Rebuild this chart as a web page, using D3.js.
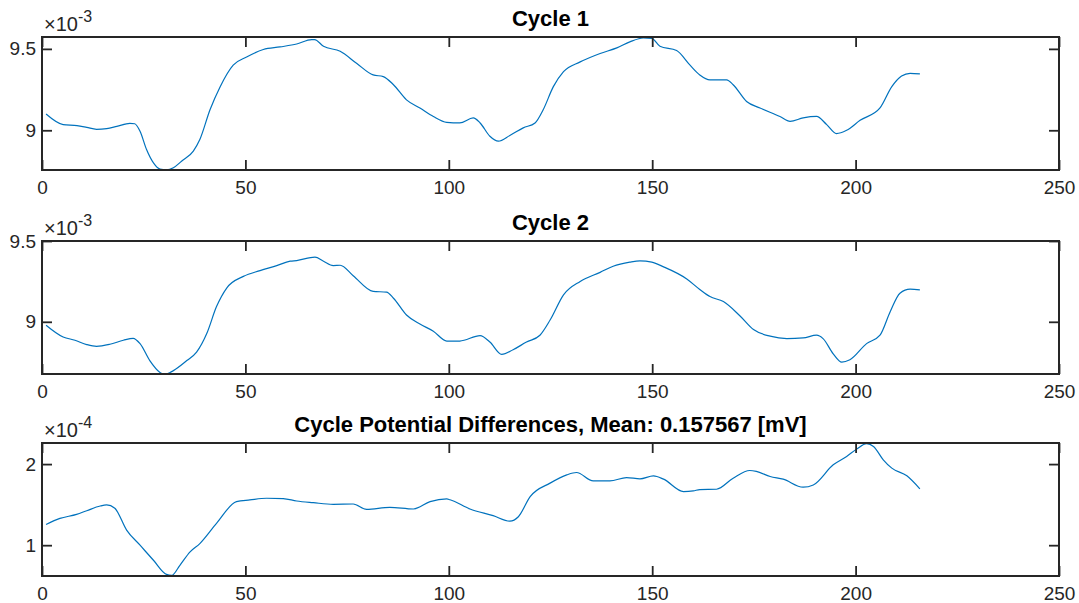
<!DOCTYPE html>
<html><head><meta charset="utf-8">
<script src="https://cdn.jsdelivr.net/npm/d3@7"></script>
<style>
html,body{margin:0;padding:0;background:#fff;}
svg{display:block;font-family:"Liberation Sans",Arial,Helvetica,sans-serif;}
</style></head>
<body><svg id="chart" width="1079" height="603"></svg>
<script>
// ---- Data (values shown in units of the axis multiplier) ----
const titles = ["Cycle 1", "Cycle 2", "Cycle Potential Differences, Mean: 0.157567 [mV]"];
const exponents = ["-3", "-3", "-4"];
const xTicks = [0, 50, 100, 150, 200, 250];
const xDomain = [0, 250];

const x1 = [1,5.2,8.6,11,13.4,15.9,18.4,21.6,22.8,24.1,25.7,27.4,29,30.6,32.3,34.3,37.2,38.8,41.3,43.8,47,50.3,54.4,58.5,62.6,66.3,67,69.2,73.3,77.4,81.4,83.9,86.4,89.6,92.9,96.2,99.5,102.7,106,107.7,110.1,112.2,115,118.3,121.2,123.2,125.7,128.2,132.3,137.2,141.3,144.5,147.8,149.9,151.9,156,159.3,161.7,164.2,168.3,169.9,173.2,176.5,181.4,183.9,187.1,190.4,192.9,195.3,197.8,201.1,206,208.9,211.3,213.4,215.8];
const c1 = [9.100,9.035,9.029,9.018,9.006,9.010,9.024,9.043,9.040,8.994,8.882,8.800,8.762,8.757,8.770,8.810,8.872,8.943,9.126,9.268,9.400,9.450,9.496,9.512,9.530,9.557,9.557,9.516,9.485,9.410,9.340,9.330,9.280,9.187,9.137,9.085,9.049,9.045,9.076,9.045,8.963,8.933,8.968,9.015,9.045,9.126,9.268,9.360,9.420,9.472,9.506,9.543,9.567,9.565,9.516,9.490,9.400,9.340,9.310,9.310,9.280,9.177,9.137,9.085,9.055,9.076,9.085,9.035,8.980,9.000,9.061,9.137,9.268,9.333,9.350,9.346];

const x2 = [1,5.2,8.1,11,13.4,16.7,20,22.4,24.1,26.5,29,30.2,32.3,35.6,38,40.5,42.9,45.4,49.5,53.6,57.7,61,62.6,67.1,69.2,71.6,73.3,76.5,81.4,84.7,86.4,89.6,92.9,96.2,99.5,102.7,107.7,110.1,113,115.8,119.1,122.4,124.9,128.2,132.3,137.2,140.4,144.5,147,149.9,152.8,158.5,161.7,164.2,167.5,171.6,174.9,179,183.1,187.1,190.4,192,194.5,196.6,198.6,202.7,206,208.5,210.9,213.4,215.8];
const c2 = [8.979,8.906,8.886,8.859,8.848,8.861,8.886,8.898,8.865,8.760,8.687,8.675,8.698,8.760,8.812,8.927,9.094,9.209,9.281,9.317,9.348,9.375,9.379,9.400,9.375,9.348,9.350,9.285,9.188,9.184,9.146,9.042,8.986,8.942,8.881,8.881,8.915,8.875,8.798,8.827,8.875,8.917,9.011,9.167,9.250,9.306,9.344,9.369,9.377,9.369,9.340,9.265,9.200,9.156,9.125,9.036,8.952,8.911,8.896,8.900,8.917,8.896,8.802,8.750,8.765,8.865,8.917,9.062,9.177,9.202,9.198];

const x3 = [1,4.4,8.5,11,14.3,15.9,17.9,20.8,24.1,27.4,30.6,31.9,33.9,36.4,38.8,42.9,47.8,51.1,55.2,59.3,62.6,66.7,71.6,76.5,79.8,85.5,91.3,95.4,99.5,100.3,105.2,110.9,115,117.1,120,124.9,129,131.4,135.5,139.6,143.7,147,150.3,152.8,157.7,160.1,161.7,165.8,169.9,174,175.6,179,182.2,187.1,189.6,194.5,197.8,200.3,202.7,204.4,206.8,208.9,212.6,215.8];
const d3v = [1.256,1.330,1.380,1.425,1.483,1.496,1.455,1.186,1.000,0.814,0.640,0.628,0.752,0.917,1.020,1.269,1.537,1.558,1.579,1.574,1.545,1.524,1.504,1.508,1.442,1.467,1.446,1.537,1.570,1.560,1.446,1.364,1.297,1.351,1.599,1.765,1.867,1.896,1.793,1.793,1.834,1.818,1.855,1.814,1.661,1.669,1.686,1.690,1.826,1.921,1.910,1.847,1.814,1.715,1.743,1.991,2.094,2.186,2.252,2.218,2.053,1.950,1.855,1.694];

const yDomains = [[8.756, 9.573], [8.677, 9.5], [0.62, 2.26]];
const yTicks = [[9, 9.5], [9, 9.5], [1, 2]];
const yTickLabels = [["9", "9.5"], ["9", "9.5"], ["1", "2"]];

// ---- Layout ----
const svg = d3.select("#chart");
const L = 42, R = 1059;
const tops = [37, 241, 443];
const H = 133;
const axisColor = "#262626";
const lineColor = "#0072BD";
const FONT = '"Liberation Sans",Arial,Helvetica,sans-serif';

const series = [[x1, c1], [x2, c2], [x3, d3v]];

series.forEach(([xs, ys], i) => {
  const top = tops[i], bottom = top + H;
  const x = d3.scaleLinear().domain(xDomain).range([L, R]);
  const y = d3.scaleLinear().domain(yDomains[i]).range([bottom, top]);
  const g = svg.append("g");

  const cid = "clip" + i;
  svg.append("defs").append("clipPath").attr("id", cid)
    .append("rect").attr("x", L).attr("y", top).attr("width", R - L).attr("height", H);

  const data = xs.map((v, k) => [v, ys[k]]);
  g.append("path")
    .datum(data)
    .attr("clip-path", `url(#${cid})`)
    .attr("fill", "none")
    .attr("stroke", lineColor)
    .attr("stroke-width", 1.2)
    .attr("d", d3.line().x(d => x(d[0])).y(d => y(d[1])).curve(d3.curveMonotoneX));

  const tl = 10;
  const bAxis = d3.axisBottom(x).tickValues(xTicks).tickSizeInner(-tl).tickSizeOuter(0).tickPadding(11).tickFormat(d3.format("d"));
  const tAxis = d3.axisTop(x).tickValues(xTicks).tickSizeInner(-tl).tickSizeOuter(0).tickFormat("");
  const lAxis = d3.axisLeft(y).tickValues(yTicks[i]).tickSizeInner(-tl).tickSizeOuter(0).tickPadding(6)
    .tickFormat((d, k) => yTickLabels[i][k]);
  const rAxis = d3.axisRight(y).tickValues(yTicks[i]).tickSizeInner(-tl).tickSizeOuter(0).tickFormat("");

  const styleAxis = sel => {
    sel.attr("font-size", null).attr("font-family", null);
    sel.select(".domain").remove();
    sel.selectAll("line").attr("stroke", axisColor).attr("stroke-width", 1.8);
    sel.selectAll("text").attr("fill", axisColor).style("font-size", "19px").style("font-family", FONT);
  };
  g.append("g").attr("transform", `translate(0,${bottom})`).call(bAxis).call(styleAxis);
  g.append("g").attr("transform", `translate(0,${top})`).call(tAxis).call(styleAxis);
  g.append("g").attr("transform", `translate(${L},0)`).call(lAxis).call(styleAxis);
  g.append("g").attr("transform", `translate(${R},0)`).call(rAxis).call(styleAxis);

  g.append("rect").attr("x", L).attr("y", top).attr("width", R - L).attr("height", H)
    .attr("fill", "none").attr("stroke", axisColor).attr("stroke-width", 2);

  g.append("text").attr("x", (L + R) / 2).attr("y", top - 11)
    .attr("text-anchor", "middle").attr("fill", "#000")
    .style("font-size", "22px").style("font-weight", "bold").style("font-family", FONT)
    .text(titles[i]);

  const ex = g.append("text").attr("x", L + 2).attr("y", top - 6)
    .attr("fill", axisColor).style("font-size", "20px").style("font-family", FONT);
  ex.append("tspan").text("\u00d710");
  ex.append("tspan").attr("dy", -9).style("font-size", "16px").text(exponents[i]);
});
</script>
</body></html>
